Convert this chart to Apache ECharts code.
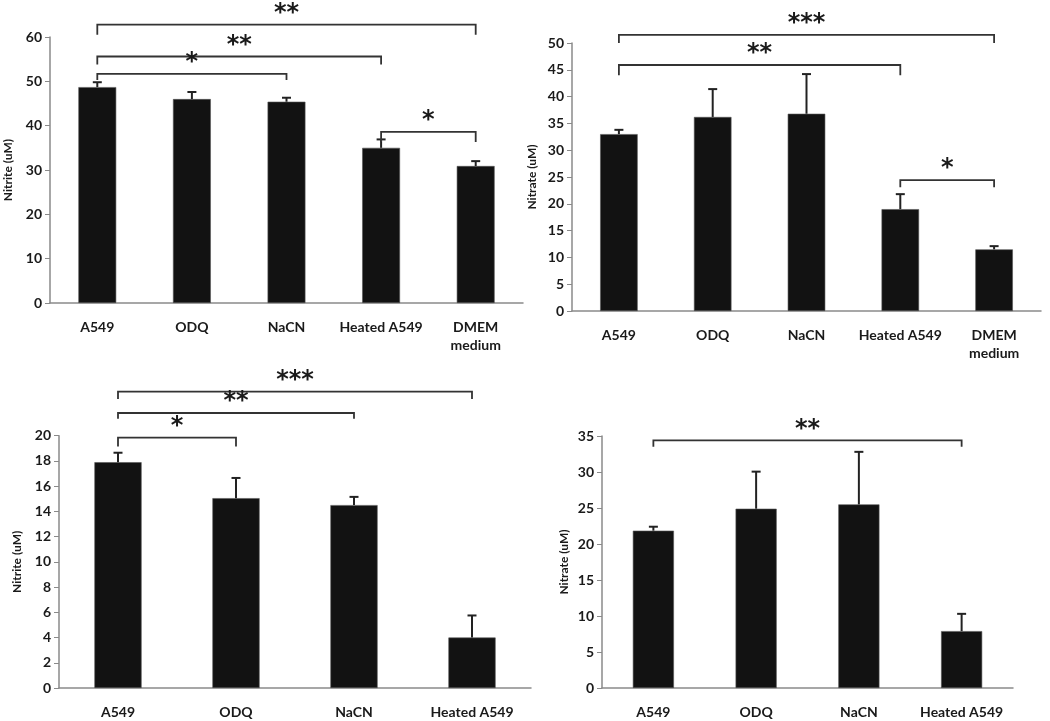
<!DOCTYPE html>
<html>
<head>
<meta charset="utf-8">
<script src="https://cdn.jsdelivr.net/npm/echarts@6/dist/echarts.min.js"></script>
<style>
html,body{margin:0;padding:0;background:#fff;}
#chart{width:1050px;height:721px;}
</style>
</head>
<body>
<div id="chart"></div>
<script>
// ---------- data ----------
const categoriesTop = ['A549', 'ODQ', 'NaCN', 'Heated A549', 'DMEM\nmedium'];
const categoriesBottom = ['A549', 'ODQ', 'NaCN', 'Heated A549'];

const nitriteTop = [48.7, 46.0, 45.4, 35.0, 30.9];
const nitriteTopSD = [1.1, 1.6, 0.9, 1.9, 1.1];
const nitrateTop = [33.0, 36.2, 36.8, 19.0, 11.5];
const nitrateTopSD = [0.8, 5.2, 7.4, 2.8, 0.6];
const nitriteBottom = [17.9, 15.05, 14.5, 4.0];
const nitriteBottomSD = [0.75, 1.6, 0.65, 1.75];
const nitrateBottom = [21.85, 24.9, 25.5, 7.9];
const nitrateBottomSD = [0.55, 5.15, 7.3, 2.4];

// brackets: [fromIndex, toIndex, level, tickEnd]
const bracketsP1 = [[0, 4, 62.8, 60.5], [0, 3, 55.6, 53.8], [0, 2, 51.7, 50.3], [3, 4, 38.6, 36.3]];
const starsP1 = ['**', '**', '*', '*'];
const bracketsP2 = [[0, 4, 51.5, 50.0], [0, 3, 45.9, 44.0], [3, 4, 24.4, 23.1]];
const starsP2 = ['***', '**', '*'];
const bracketsP3 = [[0, 3, 23.5, 22.9], [0, 2, 21.8, 21.35], [0, 1, 19.85, 19.15]];
const starsP3 = ['***', '**', '*'];
const bracketsP4 = [[0, 3, 34.4, 33.5]];
const starsP4 = ['**'];

const yAxesInfo = [
  {name: 'Nitrite (uM)', max: 60, interval: 10},
  {name: 'Nitrate (uM)', max: 50, interval: 5},
  {name: 'Nitrite (uM)', max: 20, interval: 2},
  {name: 'Nitrate (uM)', max: 35, interval: 5}
];

// ---------- chart ----------
const FONT = 'Lato';
const chart = echarts.init(document.getElementById('chart'));

const grids = [
  {left: 50, right: 527, top: 37, bottom: 418},
  {left: 572, right: 9, top: 43, bottom: 410},
  {left: 59, right: 519, top: 435.7, bottom: 27.7},
  {left: 602, right: 37, top: 436, bottom: 27.7}
];
const nameGaps = [36, 34, 36, 32];

const xAxes = [categoriesTop, categoriesTop, categoriesBottom, categoriesBottom].map((cats, i) => ({
  type: 'category', gridIndex: i, data: cats,
  axisLine: {lineStyle: {color: '#8a8a8a', width: 1.5}},
  axisTick: {show: false},
  axisLabel: {color: '#1a1a1a', fontFamily: FONT, fontWeight: 'bold', fontSize: 14, margin: 15, lineHeight: 18, interval: 0}
}));

const yAxes = yAxesInfo.map((a, i) => ({
  type: 'value', gridIndex: i, min: 0, max: a.max, interval: a.interval,
  name: a.name, nameLocation: 'middle', nameGap: nameGaps[i], nameRotate: 90,
  nameTextStyle: {color: '#1a1a1a', fontFamily: FONT, fontWeight: 'bold', fontSize: 12},
  axisLine: {show: true, lineStyle: {color: '#8a8a8a', width: 1.5}},
  axisTick: {show: true, length: 5, lineStyle: {color: '#8a8a8a'}},
  splitLine: {show: false},
  axisLabel: {color: '#1a1a1a', fontFamily: FONT, fontWeight: 'bold', fontSize: 14, margin: 8}
}));

function barSeries(vals, i) {
  return {
    type: 'bar', xAxisIndex: i, yAxisIndex: i, data: vals, barWidth: '40%',
    itemStyle: {color: '#121212', borderColor: '#555', borderWidth: 0.6},
    z: 2
  };
}

function errSeries(vals, sds, i) {
  return {
    type: 'custom', xAxisIndex: i, yAxisIndex: i, z: 3, clip: false,
    data: vals.map((v, k) => [k, v, v + sds[k]]),
    renderItem: function (params, api) {
      const b = api.coord([api.value(0), api.value(1)]);
      const t = api.coord([api.value(0), api.value(2)]);
      return {
        type: 'group', children: [
          {type: 'line', shape: {x1: b[0], y1: b[1], x2: t[0], y2: t[1]}, style: {stroke: '#222', lineWidth: 2}},
          {type: 'line', shape: {x1: t[0] - 4.5, y1: t[1], x2: t[0] + 4.5, y2: t[1]}, style: {stroke: '#222', lineWidth: 2}}
        ]
      };
    }
  };
}

function bracketSeries(brs, stars, i) {
  return {
    type: 'custom', xAxisIndex: i, yAxisIndex: i, z: 4, clip: false, silent: true,
    data: brs,
    renderItem: function (params, api) {
      const p0 = api.coord([api.value(0), api.value(2)]);
      const p1 = api.coord([api.value(1), api.value(2)]);
      const l = api.coord([api.value(0), api.value(3)]);
      const r = api.coord([api.value(1), api.value(3)]);
      return {
        type: 'group', children: [
          {type: 'polyline', shape: {points: [l, p0, p1, r]}, style: {stroke: '#333', lineWidth: 1.8, fill: null}},
          {type: 'text', style: {text: stars[params.dataIndex], x: (p0[0] + p1[0]) / 2, y: p0[1] - 11,
            align: 'center', verticalAlign: 'middle', fill: '#1a1a1a', font: 'bold 24px DejaVu Sans'}}
        ]
      };
    }
  };
}

chart.setOption({
  animation: false,
  backgroundColor: '#fff',
  grid: grids,
  xAxis: xAxes,
  yAxis: yAxes,
  series: [
    barSeries(nitriteTop, 0), errSeries(nitriteTop, nitriteTopSD, 0), bracketSeries(bracketsP1, starsP1, 0),
    barSeries(nitrateTop, 1), errSeries(nitrateTop, nitrateTopSD, 1), bracketSeries(bracketsP2, starsP2, 1),
    barSeries(nitriteBottom, 2), errSeries(nitriteBottom, nitriteBottomSD, 2), bracketSeries(bracketsP3, starsP3, 2),
    barSeries(nitrateBottom, 3), errSeries(nitrateBottom, nitrateBottomSD, 3), bracketSeries(bracketsP4, starsP4, 3)
  ]
});
</script>
</body>
</html>
